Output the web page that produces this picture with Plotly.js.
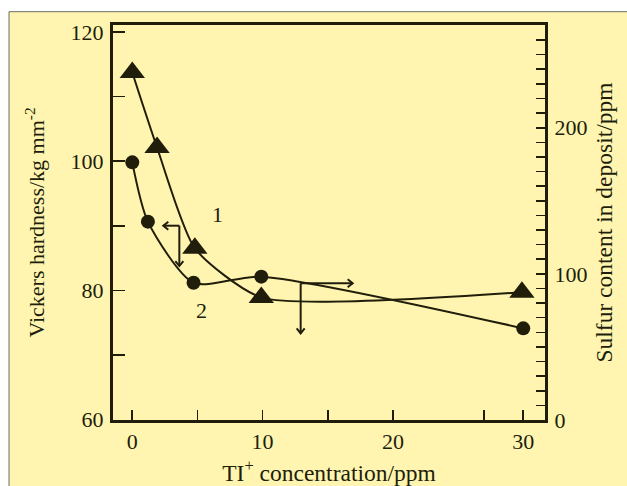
<!DOCTYPE html>
<html>
<head>
<meta charset="utf-8">
<script src="https://cdn.plot.ly/plotly-3.0.1.min.js"></script>
<style>html,body{margin:0;padding:0;background:#fff;}#chart{width:627px;height:486px;}</style>
</head>
<body>
<div id="chart"></div>
<script>
// Curve 1 (triangles): Vickers hardness, left axis
const tlConc1 = [0, 1.9, 4.8, 9.9, 29.9];
const hardness1 = [113.7, 102.1, 86.5, 78.9, 79.7];
// Curve 2 (circles): sulfur content in deposit, right axis
const tlConc2 = [0, 1.2, 4.7, 9.9, 30];
const sulfur2 = [176.3, 135.7, 93.9, 98.1, 62.7];

const xTickVals = [0, 10, 20, 30];
const xTickText = ['0', '10', '20', '30'];
const xMinorVals = [5, 15, 27];
const yTickVals = [60, 80, 100, 120];
const yTickText = ['60', '80', '100', '120'];
const yMinorVals = [70, 90, 110];
const y2TickVals = [0, 100, 200];
const y2TickText = ['0', '100', '200'];
const y2MinorVals = [10,20,30,40,50,60,70,80,90,110,120,130,140,150,160,170,180,190,210,220,230,240,250,260];

const ink = '#211d0b';
const bg = '#fff5b0';
const serif = 'Liberation Serif, Times New Roman, serif';
const fs = 22;

const W = 627, H = 486, ML = 113, MR = 82, MT = 25, MB = 66;
const xRange = [-1.48, 31.67];
const yRange = [59.93, 121.06];
const y2Range = [0, 270.27];

const traces = [
  {
    x: tlConc1, y: hardness1, yaxis: 'y', type: 'scatter', mode: 'lines+markers',
    line: {color: ink, width: 2, shape: 'spline', smoothing: 0.6},
    marker: {symbol: 'triangle-up', size: 22, color: ink},
    showlegend: false, hoverinfo: 'skip'
  },
  {
    x: tlConc2, y: sulfur2, yaxis: 'y2', type: 'scatter', mode: 'lines+markers',
    line: {color: ink, width: 2, shape: 'spline', smoothing: 0.7},
    marker: {symbol: 'circle', size: 14, color: ink},
    showlegend: false, hoverinfo: 'skip'
  }
];

// pixel-to-data scale for drawing open arrowheads
const pxX = (W - ML - MR) / (xRange[1] - xRange[0]);
const pxY = (H - MT - MB) / (yRange[1] - yRange[0]);
const HEAD_LEN = 5, HEAD_HALF = 4;

function arrowShapes(tx, ty, hx, hy) {
  const dxp = (hx - tx) * pxX, dyp = (hy - ty) * pxY;
  const L = Math.hypot(dxp, dyp);
  const ux = dxp / L, uy = dyp / L;
  const bx = -ux * HEAD_LEN, by = -uy * HEAD_LEN;
  const nx = -uy * HEAD_HALF, ny = ux * HEAD_HALF;
  const p1x = hx + (bx + nx) / pxX, p1y = hy + (by + ny) / pxY;
  const p2x = hx + (bx - nx) / pxX, p2y = hy + (by - ny) / pxY;
  return [
    {type: 'line', xref: 'x', yref: 'y', x0: tx, y0: ty, x1: hx, y1: hy, line: {color: ink, width: 2}},
    {type: 'path', xref: 'x', yref: 'y', path: `M${p1x},${p1y}L${hx},${hy}L${p2x},${p2y}`, line: {color: ink, width: 2}}
  ];
}

function minor(vals, len) {
  return {tickmode: 'array', tickvals: vals, ticks: 'inside', ticklen: len, tickwidth: 1.6, tickcolor: ink, showgrid: false};
}

const layout = {
  width: W, height: H,
  margin: {l: ML, r: MR, t: MT, b: MB, pad: 0},
  paper_bgcolor: '#ffffff',
  plot_bgcolor: bg,
  font: {family: serif, size: fs, color: ink},
  showlegend: false,
  xaxis: {
    range: xRange, tickmode: 'array', tickvals: xTickVals, ticktext: xTickText,
    ticks: 'inside', ticklen: 10, tickwidth: 1.6, tickcolor: ink,
    minor: minor(xMinorVals, 10),
    showline: true, linewidth: 3, linecolor: ink, mirror: true,
    showgrid: false, zeroline: false, fixedrange: true, ticklabelstandoff: 0,
    tickfont: {family: serif, size: fs, color: ink},
    title: {text: 'TI<sup>+</sup> concentration/ppm', font: {family: serif, size: 23.5, color: ink}, standoff: 12}
  },
  yaxis: {
    range: yRange, tickmode: 'array', tickvals: yTickVals, ticktext: yTickText,
    ticks: 'inside', ticklen: 12, tickwidth: 1.6, tickcolor: ink,
    minor: minor(yMinorVals, 12),
    showline: true, linewidth: 3, linecolor: ink,
    showgrid: false, zeroline: false, fixedrange: true, ticklabelstandoff: 2,
    tickfont: {family: serif, size: fs, color: ink},
    title: {text: 'Vickers hardness/kg mm<sup>-2</sup>', font: {family: serif, size: fs, color: ink}, standoff: 20}
  },
  yaxis2: {
    overlaying: 'y', side: 'right',
    range: y2Range, tickmode: 'array', tickvals: y2TickVals, ticktext: y2TickText,
    ticks: 'inside', ticklen: 9, tickwidth: 1.6, tickcolor: ink,
    minor: minor(y2MinorVals, 9),
    showline: true, linewidth: 3, linecolor: ink,
    showgrid: false, zeroline: false, fixedrange: true, ticklabelstandoff: 2,
    tickfont: {family: serif, size: fs, color: ink},
    title: {text: 'Sulfur content in deposit/ppm', font: {family: serif, size: 23.5, color: ink}, standoff: 10}
  },
  shapes: [
    {type: 'rect', xref: 'paper', yref: 'paper', x0: -0.2407, x1: 1.25, y0: -0.25, y1: 1.0337,
     fillcolor: bg, line: {color: '#6b6b66', width: 1}, layer: 'below'}
  ].concat(
    arrowShapes(3.61, 90, 2.38, 90),
    arrowShapes(3.61, 90, 3.61, 83.76),
    arrowShapes(12.92, 81.08, 16.91, 81.08),
    arrowShapes(12.92, 81.08, 12.92, 73.35)
  ),
  annotations: [
    {x: 6.52, y: 91.66, xref: 'x', yref: 'y', text: '1', showarrow: false, font: {family: serif, size: fs, color: ink}},
    {x: 5.33, y: 76.95, xref: 'x', yref: 'y', text: '2', showarrow: false, font: {family: serif, size: fs, color: ink}}
  ]
};

Plotly.newPlot('chart', traces, layout, {staticPlot: true, displayModeBar: false});
</script>
</body>
</html>
